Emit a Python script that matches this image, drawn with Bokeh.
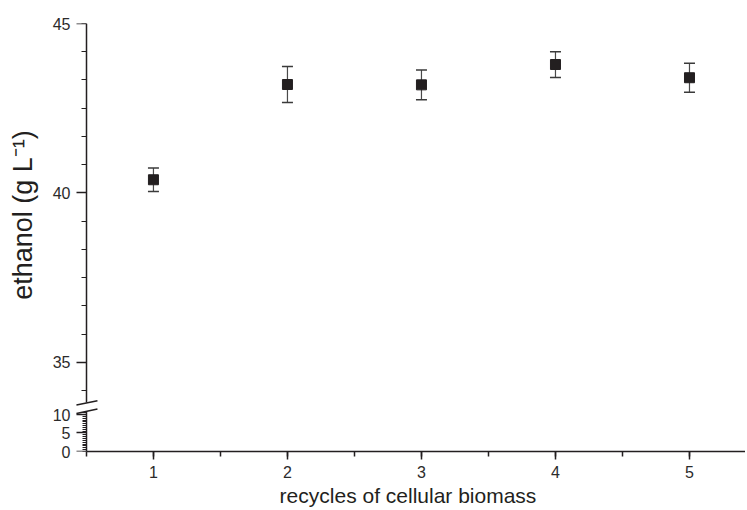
from bokeh.plotting import figure
from bokeh.models import (ColumnDataSource, Whisker, TeeHead, SingleIntervalTicker,
                          Range1d, LinearAxis)
from bokeh.layouts import column
from bokeh.embed import file_html
from bokeh.resources import INLINE

# ---- data ----
cycles = [1, 2, 3, 4, 5]
ethanol = [40.39, 43.20, 43.19, 43.79, 43.40]
error = [0.35, 0.53, 0.44, 0.38, 0.43]
upper_ticks = [35, 40, 45]
lower_ticks = [0, 5, 10]
x_label = "recycles of cellular biomass"
y_label = "ethanol (g L\u207b\u00b9)"

lower = [m - e for m, e in zip(ethanol, error)]
upper = [m + e for m, e in zip(ethanol, error)]
src = ColumnDataSource(dict(x=cycles, y=ethanol, lower=lower, upper=upper))

FONT = "Liberation Sans"
INK = "#231f20"
TICK_TXT = "#2b2b2b"

X0 = 0.5          # where the y axis sits (left end of the x axis)
xr = Range1d(0.381, 5.418)


def line_axis(ticks, minor, bounds, minor_out=5):
    """y axis line + ticks drawn at x = X0 (no labels)."""
    ax = LinearAxis(ticker=SingleIntervalTicker(interval=5, num_minor_ticks=minor),
                    fixed_location=X0, bounds=bounds)
    ax.major_label_overrides = {t: "" for t in ticks}
    ax.axis_line_color = INK
    ax.axis_line_width = 1.5
    ax.major_tick_line_color = INK
    ax.major_tick_line_width = 1.5
    ax.minor_tick_line_color = INK
    ax.minor_tick_line_width = 1
    ax.major_tick_in = 0
    ax.major_tick_out = 10
    ax.minor_tick_in = 0
    ax.minor_tick_out = minor_out
    return ax


def label_axis(minor):
    """y axis carrying only the tick labels (and the title)."""
    ax = LinearAxis(ticker=SingleIntervalTicker(interval=5, num_minor_ticks=minor))
    ax.axis_line_color = None
    ax.major_tick_line_color = None
    ax.minor_tick_line_color = None
    ax.major_tick_in = 0
    ax.major_tick_out = 0
    ax.minor_tick_in = 0
    ax.minor_tick_out = 0
    ax.major_label_standoff = 0
    ax.major_label_text_font = FONT
    ax.major_label_text_font_size = "16px"
    ax.major_label_text_color = TICK_TXT
    return ax


# ---- upper panel (33.7 .. 45) ----
p1 = figure(width=745, height=406, x_range=xr, y_range=Range1d(33.70, 45),
            x_axis_location=None, y_axis_location=None,
            output_backend="svg", toolbar_location=None,
            min_border_left=70, min_border_right=0, min_border_top=23,
            min_border_bottom=0)
p1.outline_line_color = None
p1.grid.visible = False
p1.add_layout(line_axis(upper_ticks, 6, (33.806, 45)), "left")
lab1 = label_axis(6)
lab1.axis_label = y_label
lab1.axis_label_text_font = FONT
lab1.axis_label_text_font_size = "27px"
lab1.axis_label_text_font_style = "normal"
lab1.axis_label_text_color = INK
lab1.axis_label_standoff = 12
p1.add_layout(lab1, "left")

whisk = Whisker(base="x", lower="lower", upper="upper", source=src,
                line_color="#4a4a4a", line_width=1.2,
                upper_head=TeeHead(size=11, line_color="#3a3a3a", line_width=1.5),
                lower_head=TeeHead(size=11, line_color="#3a3a3a", line_width=1.5))
p1.add_layout(whisk)
p1.scatter("x", "y", source=src, marker="square", size=10,
           fill_color=INK, line_color=INK)

# axis-break mark, upper stroke
p1.segment(x0=[0.4254], y0=[33.744], x1=[0.5821], y1=[33.872],
           line_color=INK, line_width=1.5)

# ---- lower panel (0 .. 10) ----
p2 = figure(width=745, height=104, x_range=xr, y_range=Range1d(0, 12.16),
            y_axis_location=None,
            output_backend="svg", toolbar_location=None,
            min_border_left=70, min_border_right=0, min_border_top=0,
            min_border_bottom=59)
p2.outline_line_color = None
p2.grid.visible = False
p2.add_layout(line_axis(lower_ticks, 10, (0, 10.86), minor_out=4), "left")
p2.add_layout(label_axis(10), "left")

xa = p2.xaxis[0]
xa.bounds = (X0, 5.418)
xa.ticker = SingleIntervalTicker(interval=1, num_minor_ticks=2)
xa.axis_line_color = INK
xa.axis_line_width = 1.5
xa.major_tick_line_color = INK
xa.major_tick_line_width = 1.5
xa.minor_tick_line_color = INK
xa.minor_tick_line_width = 1.5
xa.major_tick_in = 0
xa.major_tick_out = 8
xa.minor_tick_in = 0
xa.minor_tick_out = 5
xa.major_label_text_font = FONT
xa.major_label_text_font_size = "16px"
xa.major_label_text_color = TICK_TXT
xa.major_label_standoff = 6
xa.axis_label = x_label
xa.axis_label_text_font = FONT
xa.axis_label_text_font_size = "21px"
xa.axis_label_text_font_style = "normal"
xa.axis_label_text_color = INK
xa.axis_label_standoff = 3

# axis-break mark, lower stroke
p2.segment(x0=[0.4254], y0=[10.27], x1=[0.5821], y1=[11.49],
           line_color=INK, line_width=1.5)

layout = column(p1, p2, spacing=0)
open("out.html", "w").write(file_html(layout, INLINE))
